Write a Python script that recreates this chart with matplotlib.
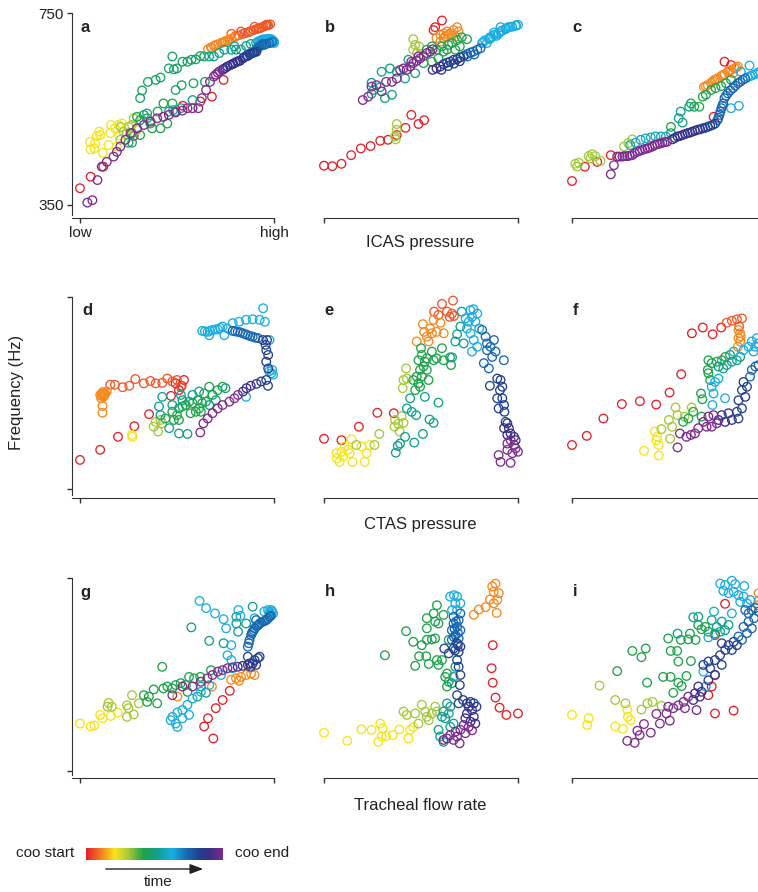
import matplotlib
matplotlib.use('Agg')
import matplotlib.pyplot as plt
import numpy as np
from matplotlib.colors import LinearSegmentedColormap
from matplotlib.patches import FancyArrowPatch

plt.rcParams['font.family'] = ['Liberation Sans', 'DejaVu Sans']

# position along the coo (0 = start, 1 = end)
R, RO, O, Y, YG, G, T, C, B, DB, I, P = 0.0, 0.07, 0.12, 0.21, 0.31, 0.42, 0.52, 0.63, 0.74, 0.83, 0.9, 1.0

# (time, [(pressure or flow 0-100, frequency Hz), ...])
panel_a = [
    (R, [(0, 385), (5.5, 409), (12, 430), (27.7, 494), (53, 557), (62, 566), (68, 576), (74, 611)]),
    (RO, [(78, 707), (83, 712), (86.5, 710), (90, 722), (92.5, 719), (96, 726), (81.7, 704), (84, 707),
          (88, 713), (91, 717), (93.4, 720), (95.5, 724), (97, 725), (80, 702), (85, 709), (87, 711),
          (89.5, 715), (92, 718), (94.5, 722), (96.5, 726), (98, 727)]),
    (O, [(66, 675), (67.5, 679), (69, 682), (71, 685), (72.7, 688), (74.4, 690), (76, 693), (78, 697), (79.6, 700),
         (68, 678), (70, 684), (73.5, 689), (75, 692), (77, 695)]),
    (Y, [(5.2, 482), (5.5, 466), (7.8, 479), (8.7, 494), (9.9, 503), (10.4, 496), (11.8, 459), (7.4, 468),
         (14.7, 475), (15.6, 500), (16, 517), (18, 510), (19.9, 517), (21.6, 520), (20.4, 494), (19, 472)]),
    (YG, [(21, 513), (22.5, 503), (25, 513), (27.7, 531), (26.8, 517), (29.4, 507), (20.8, 486), (24, 498)]),
    (G, [(29.4, 534), (31, 527), (32.9, 538), (34.6, 531), (37.2, 510), (36.3, 520), (40, 545), (41.5, 510),
         (43, 562), (45, 520), (47.6, 562), (31, 496), (26.8, 500), (25, 480)]),
    (0.46, [(31, 573), (32, 589), (35, 607), (39, 611), (41.5, 616), (45.8, 635), (47.6, 660), (48.4, 633),
            (50, 635), (52.8, 649), (55.4, 649), (57.4, 653), (59.7, 654), (62, 661), (64, 660), (49.3, 590),
            (52.4, 600), (58.5, 604), (64.4, 607)]),
    (T, [(26.8, 480), (34.6, 541), (45.8, 545), (49, 545), (58, 569), (52, 552), (48, 548), (66.6, 660),
         (69, 660), (71.8, 667), (74.4, 674), (78, 674), (80.4, 674), (83, 674), (85.6, 682), (88, 686),
         (90.8, 688), (79.6, 681)]),
    (C, [(91.7, 691), (93.4, 694), (95, 696), (96.9, 697), (98.6, 696), (100, 691), (98, 688), (95, 688),
         (99, 694), (97, 692), (92.5, 692), (94, 695), (96, 695), (97.5, 696), (99.5, 693), (100, 688),
         (96, 690), (93, 689)]),
    (B, [(92.6, 681), (90.8, 674), (95, 684), (94, 686), (91.5, 678), (93.5, 683), (96, 686), (97.5, 688),
         (99, 690)]),
    (DB, [(89, 667), (86.5, 661), (84, 656), (91, 670), (87.5, 664), (85, 659), (90, 669), (88, 666),
          (89.5, 668), (86, 662), (84.5, 658)]),
    (I, [(81, 649), (78.7, 644), (76, 639), (73.5, 632), (82.5, 651), (80, 647), (77.5, 642), (75, 636),
         (79, 645), (81.5, 650), (74, 634)]),
    (P, [(71, 626), (69, 618), (67, 607), (65, 590), (62.8, 573), (61, 552), (58, 552), (55.4, 552),
         (52.8, 547), (49.3, 543), (45.8, 538), (43, 534), (39.8, 531), (36.3, 524), (32.9, 517), (29.4, 510),
         (26, 500), (23.4, 486), (20.8, 472), (19, 461), (17.3, 451), (13.8, 440), (11.2, 430), (9, 402),
         (6.4, 360), (3.8, 355), (72, 629), (70, 622)]),
]

panel_b = [
    (R, [(0, 432), (4.3, 431), (9, 436), (14, 454), (19, 468), (24, 473), (29, 484), (33, 486), (37.5, 496),
         (42, 511), (45, 538), (48.7, 519), (51.6, 527), (60.8, 735), (57.3, 721), (56.5, 715)]),
    (YG, [(37.5, 519), (37.5, 507), (36.6, 493), (37, 487), (46, 696), (47, 684), (49, 681), (46, 674), (48, 667)]),
    (O, [(58, 698), (60, 705), (61.7, 708), (63.4, 712), (65, 708), (66.8, 715), (68.6, 721), (69.4, 712),
         (61.7, 698), (64, 705), (60, 691), (67.7, 701), (62.5, 702), (66, 703)]),
    (G, [(53, 674), (55.6, 681), (58, 674), (60.8, 681), (63.4, 674), (66, 688), (68.6, 694), (71, 700),
         (73.7, 696), (70, 681), (67.7, 674), (61.7, 670), (51.3, 646), (55.6, 649), (59, 656), (64, 684)]),
    (T, [(29.7, 628), (34, 635), (37.5, 628), (41.8, 614), (47, 625), (43.5, 653), (24.5, 605), (25.7, 590),
         (29, 596), (31.4, 573), (35, 580), (24.5, 582)]),
    (P, [(20, 569), (22.8, 576), (24.5, 597), (27, 600), (29.7, 587), (32, 607), (35, 607), (37.5, 614),
         (39.2, 632), (41, 635), (42.6, 632), (44.4, 639), (46, 646), (47.8, 651), (49.5, 656), (51.3, 661),
         (53, 667), (54.7, 670), (56, 675), (45, 649), (48.7, 660)]),
    (I, [(56, 632), (58, 635), (60, 639), (60.5, 632)]),
    (DB, [(61.7, 644), (63.4, 647), (65, 649), (66.8, 653), (68.6, 654), (70.3, 658), (72, 661), (64, 640),
          (67, 645), (70, 650)]),
    (B, [(73.7, 665), (75.5, 668), (77, 670), (79, 674), (80.7, 677), (74, 660), (77.5, 664)]),
    (C, [(81.5, 688), (83, 694), (86, 698), (87.6, 705), (90, 708), (92, 714), (93.6, 717), (95, 721),
         (97, 722), (98.8, 724), (100, 726), (87.6, 710), (91, 721), (84, 688), (82, 690), (85, 696),
         (88.5, 706), (91, 712), (94, 719), (96, 722), (99, 725), (85.5, 700), (89, 703)]),
]

panel_c = [
    (R, [(0, 400), (6.6, 430), (13, 440), (20, 454), (78.6, 649), (82, 642), (73, 534)]),
    (YG, [(1.7, 436), (3.5, 438), (8.6, 452), (10.4, 456), (12, 452), (14.7, 442), (9.5, 447), (2.6, 430),
          (26.8, 472), (29, 479), (31.1, 487)]),
    (O, [(68, 596), (70, 600), (71.7, 605), (73.4, 611), (75, 614), (76.9, 619), (78.6, 623), (80.3, 628),
         (82, 632), (83.8, 635), (85.5, 639), (83, 625), (69, 598), (72.5, 608), (74.2, 612), (77.7, 621),
         (81, 630), (84.6, 637)]),
    (G, [(51, 513), (61.3, 562), (63, 555), (65.6, 555), (67.4, 576), (69, 580), (71.7, 590), (74, 594),
         (76.9, 598), (79.4, 604), (82, 611)]),
    (T, [(51, 500), (55, 531), (56, 545), (60.4, 555), (57, 522)]),
    (0.58, [(30, 475), (32.8, 480), (35.4, 486), (38, 489), (40.6, 491), (43, 493), (45.8, 493), (48.4, 493)]),
    (C, [(90.7, 617), (93, 621), (95.8, 626), (91.5, 641), (86, 557), (82, 552), (87, 628), (92, 619),
         (94.4, 623), (97, 628)]),
    (B, [(75, 527), (76, 538), (77, 552), (78, 562), (78.6, 573), (80.3, 583), (83, 594), (85.5, 604), (88, 611),
         (75.5, 532), (76.5, 545), (77.5, 557), (79.4, 578), (81.6, 589), (84.2, 599), (86.7, 607), (89.3, 614)]),
    (DB, [(67.4, 510), (70, 513), (72.5, 517), (66, 508), (68.7, 511), (71.2, 515), (73.8, 520)]),
    (I, [(51.8, 487), (54.4, 493), (57, 496), (59.6, 500), (62, 503), (64.8, 507), (53, 490), (55.7, 494),
         (58.3, 498), (60.8, 501), (63.4, 505)]),
    (P, [(20, 414), (21.6, 433), (23.3, 451), (26, 451), (28.5, 452), (31, 454), (33.7, 461), (36.3, 465),
         (38.9, 468), (41.5, 472), (44, 477), (46.6, 480), (49, 482), (24.5, 451), (27, 452), (29.7, 453),
         (32.3, 458), (35, 463), (37.6, 467), (40, 470), (42.7, 475), (45.3, 478), (47.8, 481)]),
]

panel_d = [
    (R, [(0, 411), (10.4, 432), (19.6, 459), (28, 481), (35.6, 506), (46.9, 544), (51, 556), (52.4, 565),
         (53.6, 577), (49.3, 570)]),
    (RO, [(15.6, 567), (18, 567), (22, 562), (25.4, 565), (28.5, 579), (32.9, 570), (36.3, 575), (39, 570),
          (42.4, 571), (45, 580), (47.6, 574), (50, 577), (52, 562)]),
    (O, [(10.4, 546), (11.2, 549), (12, 546), (13, 549), (10.9, 539), (13.8, 553), (11.6, 523), (11.6, 509),
         (12.4, 543), (11, 544), (12.5, 548), (11.8, 552)]),
    (Y, [(26.8, 463), (27, 459)]),
    (YG, [(38, 480), (39, 490), (40.3, 470), (41.5, 494), (42.4, 487)]),
    (G, [(44, 497), (47.6, 511), (50, 504), (51, 518), (52.8, 522), (54.5, 525), (56.2, 532), (58, 529),
         (60.6, 535), (61.4, 518), (63, 529), (64.9, 532), (66.6, 563), (68.3, 546), (71, 556), (73.5, 563),
         (51, 494), (48.4, 494), (57, 508), (59.7, 511), (62.3, 511), (64, 549)]),
    (T, [(42.4, 542), (40.7, 522), (41.5, 504), (46, 477), (51, 466), (55.4, 465), (52.8, 535), (61.4, 553),
         (75, 560), (47.6, 525), (52, 546), (58, 546), (66.6, 525), (70, 535)]),
    (C, [(98.6, 591), (99, 598), (99.5, 588), (97.5, 595), (85.6, 542), (63, 679), (65.8, 677), (68.3, 681),
         (71, 682), (73.5, 688), (76, 684), (78.7, 695), (82, 698), (85.6, 702), (89, 703), (92.6, 702),
         (94.4, 726), (95.3, 698), (66.6, 670), (74.4, 670), (97.7, 660), (64.4, 678), (67, 679),
         (69.6, 682), (72.2, 685)]),
    (B, [(91.7, 664), (89, 667), (86.5, 670), (84, 674), (81.3, 677), (78.7, 679), (90.3, 665), (87.8, 668),
         (85.3, 672), (82.6, 676), (80, 678)]),
    (DB, [(93.4, 574), (96, 577), (96.9, 565), (97, 601), (96, 615), (97, 629), (96, 639), (95.7, 650),
          (96.4, 660), (94.3, 660)]),
    (I, [(84, 553), (85.8, 560), (88, 565), (91, 569)]),
    (P, [(62, 468), (63.6, 487), (65.8, 497), (68.3, 508), (71, 518), (73.5, 525), (77, 532), (79.6, 539),
         (81.4, 546)]),
]

panel_e = [
    (R, [(0, 455), (9, 452), (18, 480), (27.5, 509), (36, 508)]),
    (RO, [(60.8, 735), (66.5, 742), (63.4, 719), (66, 715), (67, 710), (64.8, 708), (56.8, 719), (59, 712)]),
    (O, [(47.8, 657), (51, 693), (51.6, 677), (53, 667), (53.9, 657), (55.6, 674), (58, 677), (60, 696),
         (61.7, 674), (56.5, 702), (54.7, 684)]),
    (Y, [(6.4, 425), (8, 407), (10.7, 439), (13.3, 425), (14.7, 407), (9.8, 418), (12.4, 432), (6.7, 414),
         (9, 428), (21, 407), (22, 425), (19.3, 439), (23.6, 442), (14.2, 454)]),
    (YG, [(26, 442), (28.5, 465), (16.7, 442), (39, 470), (36.6, 494), (36.3, 480), (38.3, 486), (41, 488),
          (40, 502), (42.3, 601), (41, 577), (42.7, 580), (40.6, 560)]),
    (G, [(47, 556), (48.7, 570), (50.4, 584), (47.8, 584), (46, 577), (49.5, 598), (51.3, 605), (52, 615),
         (48.7, 618), (50, 643), (50.4, 629), (53, 622), (55.6, 636), (56.5, 618), (58, 622), (60.8, 643),
         (61.6, 618), (65, 624), (65.5, 608), (53, 598), (53.9, 577), (49.5, 563)]),
    (T, [(37, 426), (38, 440), (39.2, 445), (41.8, 459), (46.5, 447), (51, 465), (42.7, 518), (45.2, 511),
         (47.5, 504), (54.4, 495), (56.5, 488), (44.4, 539), (59, 530), (52, 542), (66, 624), (68.6, 672),
         (71, 719), (67.7, 657), (72, 653), (70.3, 688)]),
    (C, [(75.5, 722), (77, 724), (76.3, 708), (74.6, 698), (78, 698), (73.7, 684), (75.5, 674), (77.2, 660),
         (79, 646), (76.3, 636), (80, 684), (73, 705), (79, 715)]),
    (B, [(81.5, 681), (83.3, 667), (84, 653), (85.8, 646), (87.6, 660), (88.4, 636), (86.7, 625), (84, 639),
         (82.4, 612), (85, 601), (92.7, 618)]),
    (DB, [(89.3, 580), (91, 577), (91.9, 563), (90.7, 556), (85.5, 565), (89.3, 539), (91.9, 539), (92.8, 525),
          (90, 518), (93, 511), (93.6, 490)]),
    (I, [(94.5, 487), (92.8, 477), (95.3, 477), (96.2, 466), (94.5, 463), (98, 459), (98.8, 452)]),
    (P, [(96.2, 452), (94.5, 445), (98, 442), (98.8, 435), (97.1, 425), (94.5, 432), (90, 421), (91, 407),
         (96.2, 405), (100, 428)]),
]

panel_f = [
    (R, [(0, 442), (7.6, 461), (16.2, 497), (25.7, 527), (35, 533), (43.4, 526), (50.3, 551), (56.3, 589),
         (61.8, 674), (67.4, 686), (72.5, 672), (76.9, 686)]),
    (RO, [(79.8, 696), (82.4, 700), (85, 703), (87.6, 705), (86.2, 688)]),
    (O, [(85.8, 681), (86.7, 674), (85.8, 664), (86.7, 657), (85.5, 646), (87, 668)]),
    (Y, [(37.1, 430), (44.7, 420), (42.7, 470), (44, 459), (44.7, 442), (43.5, 452)]),
    (YG, [(49.9, 494), (46.1, 475), (50.6, 455), (53.4, 520), (54.4, 504), (51.6, 480), (58, 501), (61.7, 520)]),
    (G, [(57.3, 490), (60, 497), (62.5, 511), (66.5, 549), (67.2, 537), (66.8, 501), (70.3, 618), (70, 598),
         (71.2, 577), (72, 612), (74.6, 615), (77.2, 618), (79, 625), (81.5, 629), (70.3, 591)]),
    (T, [(75.5, 605), (78, 601), (79.8, 608), (82.4, 615), (85, 618), (86.7, 625)]),
    (C, [(72, 563), (73.7, 573), (75.5, 580), (72.9, 549), (78.9, 539), (72.4, 525), (83.3, 636), (88.4, 639),
         (91, 646), (92.7, 657), (94.5, 646), (96, 653), (93.6, 636), (95.3, 664)]),
    (B, [(92.7, 598), (94.5, 605), (96.2, 608), (91.8, 584)]),
    (DB, [(88.4, 573), (90.2, 563), (87.6, 556), (89.3, 542), (85.8, 535), (87.6, 518), (85, 511), (85.8, 497)]),
    (I, [(80.7, 508), (82.4, 494), (78.9, 490), (77.2, 504), (75.5, 494)]),
    (P, [(67.7, 490), (70.3, 501), (72.9, 504), (74.6, 487), (72, 480), (69.4, 480), (65.1, 477), (63.4, 466),
         (61.3, 463), (59, 459), (55.6, 466), (54.4, 437)]),
]

panel_g = [
    (R, [(68.7, 417), (64, 442), (66, 459), (70, 480), (73.5, 497), (77.2, 516)]),
    (O, [(77.9, 539), (80.4, 542), (83, 545), (85.6, 549), (88.2, 552), (90, 549), (82, 537), (68, 525),
         (50.2, 504)]),
    (Y, [(0, 448), (5.5, 442), (7.4, 444), (10.4, 466), (11.6, 459), (15.9, 464), (19.4, 471)]),
    (YG, [(14.2, 483), (16.4, 483), (24.2, 486), (25, 480), (24.2, 462), (27.7, 467), (26.8, 507), (30.3, 490),
          (14.7, 491)]),
    (G, [(32.9, 507), (35.5, 504), (38, 519), (39.8, 490), (42.4, 566), (43, 521), (45, 525), (47.6, 521),
         (49.3, 528), (51.9, 532), (54.5, 528), (56.2, 545), (58.8, 542), (62, 545), (55.4, 514), (67.5, 559),
         (34.6, 493)]),
    (T, [(57.4, 648), (66.6, 620), (74, 615), (80.6, 670), (80.6, 656), (81.5, 639), (85.6, 656), (89, 691),
         (64.9, 512), (62.3, 525), (60.5, 504)]),
    (C, [(61.6, 703), (65, 688), (69.6, 677), (74, 665), (75.3, 646), (78, 611), (81.6, 684), (82.7, 672),
         (76, 590), (78, 580), (78.7, 563), (72.7, 549), (66.6, 528), (62.3, 514), (58, 500), (55.4, 487),
         (52.8, 476), (50.2, 471), (47.6, 462), (46.7, 455), (49.3, 448), (50.2, 441), (52.8, 459), (56.2, 466),
         (96.9, 684), (98.6, 684), (99.5, 677), (97.8, 674), (95, 681), (90, 667), (97.5, 680), (99, 681),
         (98, 677)]),
    (B, [(86.5, 608), (87.4, 622), (88.2, 632), (89, 639), (90, 646), (91.3, 651), (92.6, 656), (94.3, 660),
         (96, 663), (97.6, 670), (90.8, 663), (89.6, 642), (91.9, 653), (93.4, 658), (95.1, 661), (96.8, 666),
         (98.4, 672), (88.6, 636), (87, 615)]),
    (DB, [(91.7, 584), (92.6, 587), (90, 580), (90.8, 570), (88, 566), (86.5, 587), (87.4, 573)]),
    (I, [(81.3, 566), (83.9, 568), (86.5, 570), (89, 573)]),
    (P, [(47.6, 507), (52.8, 525), (58, 525), (62.3, 535), (65.7, 542), (68.3, 549), (71, 556), (73.5, 559),
         (76, 563), (78.7, 565)]),
]

panel_h = [
    (R, [(100, 469), (94, 466), (90.5, 481), (88.4, 502), (87, 533), (86.4, 563), (87, 611)]),
    (O, [(77.2, 674), (79.8, 685), (83.3, 690), (85.5, 706), (89, 678), (87.5, 698), (89.3, 705), (90.1, 719),
         (87.5, 722), (88.4, 739), (86.7, 733)]),
    (Y, [(0, 429), (12, 412), (19.3, 436), (24.5, 435), (28, 410), (29, 448), (30.2, 438), (29.7, 421),
         (32, 422), (35.4, 424), (38.8, 436), (43.5, 417), (44.4, 435), (46, 441)]),
    (YG, [(41, 473), (42.7, 466), (47, 469), (50.4, 487), (52.2, 473), (53, 462), (55.6, 469), (57.3, 483),
          (58.2, 473), (48.7, 448), (54, 455)]),
    (G, [(31.4, 590), (42.3, 640), (46, 618), (47, 568), (49, 588), (52.7, 588), (54, 572), (50.4, 611),
         (53, 622), (55.6, 623), (57.3, 625), (53, 646), (58.2, 580), (60.8, 580), (59, 570), (62.5, 545),
         (63.4, 525), (64.3, 535), (58.2, 694), (56.5, 677), (53, 667), (57.3, 660), (59, 656), (61.6, 674),
         (64.3, 622), (63.4, 552)]),
    (T, [(63.4, 490), (61.6, 473), (60.8, 462), (62.5, 459), (64.3, 469), (65.1, 483), (59, 435), (59.9, 421),
         (61.6, 410), (66.8, 448), (65.1, 441), (67.7, 566), (66.8, 545), (65.9, 532)]),
    (C, [(65, 712), (67, 715), (68.6, 712), (70.3, 698), (67.7, 698), (66, 684), (68.6, 684)]),
    (B, [(70.3, 677), (66.8, 670), (69.4, 663), (66.8, 656), (68.6, 649), (65.9, 642), (70.3, 642), (67.7, 632),
         (69.4, 625), (65.9, 622), (68, 660), (67.3, 645), (69, 636), (67, 628)]),
    (DB, [(68.6, 615), (70.3, 608), (66.8, 604), (69.4, 597), (62, 604), (64.3, 594), (68.6, 580), (69.4, 566),
          (70.3, 549), (70, 528), (68.6, 507), (69.4, 490), (71.7, 497), (73.7, 490), (75.5, 493), (77.2, 490),
          (78.6, 483), (69, 611), (67.5, 600)]),
    (I, [(74.6, 483), (76.3, 476), (73.7, 469), (77.2, 462), (75.5, 452), (72.9, 459), (78, 448)]),
    (P, [(72, 445), (74.6, 441), (70.3, 435), (67.7, 431), (65.1, 424), (63.4, 417), (61.6, 414), (66.8, 414),
         (69.9, 407), (72.9, 428), (76.3, 434), (68.6, 421)]),
]

panel_i = [
    (R, [(73.7, 469), (83.3, 475), (70.3, 507), (72, 525), (73.7, 549), (78.9, 697), (73.7, 632)]),
    (O, [(96.2, 719), (96.5, 705), (95.8, 694)]),
    (Y, [(0, 466), (8.6, 459), (7.8, 445), (22.3, 442), (26.2, 437), (28.8, 462), (30.2, 455), (28.5, 477)]),
    (YG, [(22.3, 497), (27.5, 490), (35.8, 477), (38.9, 490), (41.5, 493), (46.1, 485), (14.2, 527)]),
    (G, [(23.3, 557), (31.1, 599), (35.8, 586), (38, 604), (38.7, 533), (47, 545), (50.8, 545), (54.8, 533),
         (56.5, 526), (52.2, 512), (59, 547), (61.3, 578), (54.8, 577), (50.9, 599), (54.2, 599), (49.6, 625),
         (56.1, 622), (59.9, 623), (63.7, 622), (60.8, 635), (65.1, 653), (66.8, 644), (68.6, 649), (70.3, 639)]),
    (T, [(54.4, 635), (62.5, 669), (65.1, 670), (72, 663), (74.6, 649), (76.4, 639), (78.9, 642), (80.7, 653),
         (77.2, 660), (73.7, 635)]),
    (C, [(76.4, 739), (78.9, 736), (82.4, 745), (84.1, 738), (88.8, 734), (78, 724), (80.7, 719), (83.3, 722),
         (85.8, 715), (88.4, 712), (86.7, 701), (90.2, 698), (91.9, 705), (82.4, 677), (73.2, 681), (70.3, 627),
         (67.7, 556), (68.9, 525)]),
    (B, [(89.3, 684), (91, 677), (92.7, 684), (94.5, 688), (96.2, 681), (93.8, 667), (91, 660), (88.4, 649),
         (90.2, 636), (92.7, 646), (87.6, 622), (85.8, 629)]),
    (DB, [(83.3, 618), (80.7, 611), (79, 601), (76.3, 590), (73.7, 580), (70.3, 577), (67.7, 570), (71.2, 563),
          (73.7, 549), (77.2, 570), (82.4, 601), (85, 611), (77.2, 615)]),
    (I, [(65.1, 525), (66.8, 514), (63.4, 511), (65.9, 504), (62.5, 497), (70.3, 538)]),
    (P, [(59.9, 504), (57.5, 493), (54.8, 486), (52.2, 480), (49.6, 483), (48.7, 469), (50.4, 454), (45.3, 448),
         (43.5, 468), (40.6, 429), (37.1, 447), (34.9, 424), (33.7, 433), (28.5, 412), (32.3, 408), (58.2, 480),
         (64.2, 476)]),
]

panels = [panel_a, panel_b, panel_c, panel_d, panel_e, panel_f, panel_g, panel_h, panel_i]
letters = ['a', 'b', 'c', 'd', 'e', 'f', 'g', 'h', 'i']
x_titles = ['ICAS pressure', 'CTAS pressure', 'Tracheal flow rate']

coo_cmap = LinearSegmentedColormap.from_list('coo', [
    (0.00, '#e3202a'), (0.07, '#f05a28'), (0.12, '#f68b1f'), (0.21, '#f7e51b'),
    (0.31, '#a5c93b'), (0.42, '#1ea34b'), (0.52, '#12a08c'), (0.63, '#1aaee3'),
    (0.74, '#1768b1'), (0.83, '#22408f'), (0.90, '#37308a'), (1.00, '#7e2b8e'),
])

# layout in pixels of the 758x892 canvas
W, H = 758, 892
col_x0 = [80, 324, 572]          # pixel of x = 0
x_px = 1.94                      # pixels per x unit
row_750 = [13.3, 296.7, 578.3]   # pixel of 750 Hz
row_350 = [205.0, 489.3, 770.7]  # pixel of 350 Hz
row_base = [218.3, 498.3, 778.3] # pixel of the bottom spine
ink = '#333333'

fig = plt.figure(figsize=(W / 100, H / 100), dpi=100)

for k, groups in enumerate(panels):
    r, c = divmod(k, 3)
    s = (row_350[r] - row_750[r]) / 400.0
    y_lo = 350 - (row_base[r] - row_350[r]) / s
    y_hi = 760
    x_lo, x_hi = -8 / x_px, 102
    left = col_x0[c] + x_lo * x_px
    top = row_750[r] - (y_hi - 750) * s
    ax = fig.add_axes([left / W, 1 - row_base[r] / H, (x_hi - x_lo) * x_px / W, (row_base[r] - top) / H])
    ax.set_xlim(x_lo, x_hi)
    ax.set_ylim(y_lo, y_hi)
    ax.patch.set_visible(False)

    xs, ys, ts = [], [], []
    for t, pts in groups:
        for x, y in pts:
            xs.append(x)
            ys.append(y)
            ts.append(t)
    order = np.argsort(ts, kind='stable')
    xs, ys, ts = np.array(xs)[order], np.array(ys)[order], np.array(ts)[order]
    ax.scatter(xs, ys, s=38, facecolors='none', edgecolors=coo_cmap(ts), linewidths=0.95, clip_on=False, zorder=3)

    for side in ['top', 'right']:
        ax.spines[side].set_visible(False)
    ax.spines['bottom'].set_color(ink)
    ax.spines['left'].set_color(ink)
    ax.tick_params(colors=ink, length=3.3, width=1.0, labelsize=11, labelcolor='#222222', pad=2.5)
    ax.set_xticks([0, 100])
    if c == 0:
        ax.spines['bottom'].set_bounds(x_lo, 100)
        ax.spines['left'].set_bounds(y_lo + 3 / s, 750)
        ax.set_yticks([350, 750])
    else:
        ax.spines['bottom'].set_bounds(0, 100)
        ax.spines['left'].set_visible(False)
        ax.set_yticks([])
    if k == 0:
        ax.set_xticklabels(['low', 'high'])
        ax.set_yticklabels(['350', '750'])
    else:
        ax.set_xticklabels([])
        ax.set_yticklabels([])

    lx = 1.4 if k == 3 else 0.3
    ax.text(lx, 750 - 18.2 / s, letters[k], fontsize=12, fontweight='bold', color='#222222',
            ha='left', va='baseline')

for r, title in enumerate(x_titles):
    ycen = [242, 524, 806][r]
    fig.text(420.5 / W, 1 - ycen / H, title, fontsize=12, color='#222222', ha='center', va='center')

fig.text(16.7 / W, 1 - 392 / H, 'Frequency (Hz)', fontsize=12, color='#222222', rotation=90,
         ha='center', va='center')

# colour key for time
cax = fig.add_axes([86 / W, 1 - 860 / H, 136 / W, 12 / H])
cax.imshow(np.linspace(0, 1, 256)[None, :], aspect='auto', cmap=coo_cmap)
cax.axis('off')
fig.text(74 / W, 1 - 853 / H, 'coo start', fontsize=11, color='#222222', ha='right', va='center')
fig.text(235 / W, 1 - 853 / H, 'coo end', fontsize=11, color='#222222', ha='left', va='center')
fig.add_artist(FancyArrowPatch((103 / W, 1 - 869 / H), (206 / W, 1 - 869 / H), transform=fig.transFigure,
                               arrowstyle='-|>,head_length=0.8,head_width=0.3', mutation_scale=10,
                               color='#222222', lw=1.0))
fig.text(158 / W, 1 - 882 / H, 'time', fontsize=11, color='#222222', ha='center', va='center')

fig.savefig('out.png', dpi=100)
